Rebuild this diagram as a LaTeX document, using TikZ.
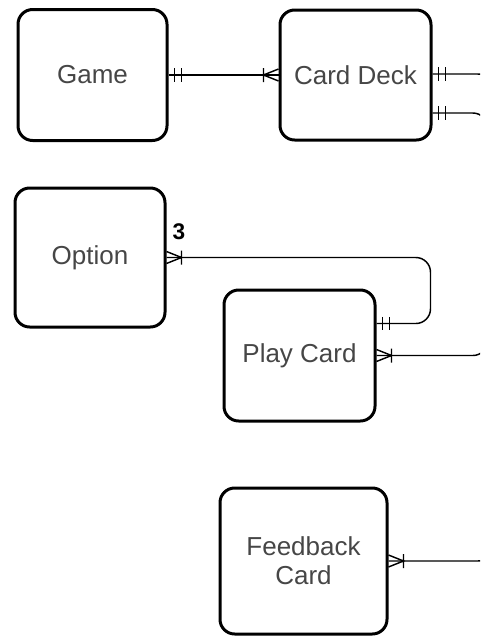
\documentclass[tikz,border=0pt]{standalone}
\usepackage{fontspec}
\setmainfont{Liberation Sans}
\usetikzlibrary{calc,decorations.markings}

\definecolor{txtgray}{RGB}{70,70,70}

\tikzset{every picture/.style={line width=0.75pt}}
\tikzset{
  entity/.style={draw, line width=2.25pt, rounded corners=11pt, inner sep=0pt, align=center,
    text=txtgray, font=\fontsize{19.5}{21.75}\selectfont},
  link/.style={line width=1.1pt, rounded corners=11pt},
  tick/.style={line width=1.1pt, sharp corners},
  one start/.style={postaction={decorate, decoration={markings,
    mark=at position 4.5pt with {\draw[tick] (0,-5pt) -- (0,5pt);},
    mark=at position 9.75pt with {\draw[tick] (0,-5pt) -- (0,5pt);}}}},
  one end/.style={postaction={decorate, decoration={markings,
    mark=at position -4.5pt with {\draw[tick] (0,-5pt) -- (0,5pt);},
    mark=at position -9.75pt with {\draw[tick] (0,-5pt) -- (0,5pt);}}}},
  many start/.style={postaction={decorate, decoration={markings,
    mark=at position 11.25pt with {\draw[tick] (0,-5.25pt) -- (0,5.25pt)
      (-11.25pt,-4.5pt) -- (0,0) -- (-11.25pt,4.5pt);}}}},
  many end/.style={postaction={decorate, decoration={markings,
    mark=at position -11.25pt with {\draw[tick] (0,-5.25pt) -- (0,5.25pt)
      (11.25pt,-4.5pt) -- (0,0) -- (11.25pt,4.5pt);}}}},
}

\begin{document}
\begin{tikzpicture}[x=0.75pt,y=0.75pt,yscale=-1,xscale=1]
\useasboundingbox (0,0) rectangle (480,637);
\clip (0,0) rectangle (480,637);

%Shape: Rounded Rect
\draw (92.5,75) node (game) [entity, minimum width=111.75pt, minimum height=98.25pt] {Game};
%Shape: Rounded Rect
\draw (355.5,75) node (deck) [entity, minimum width=113.25pt, minimum height=97.5pt] {Card Deck};
%Shape: Rounded Rect
\draw (90,257.5) node (option) [entity, minimum width=112.5pt, minimum height=104.25pt] {Option};
%Shape: Rounded Rect
\draw (299.5,355.5) node (play) [entity, minimum width=113.25pt, minimum height=98.25pt] {Play Card};
%Shape: Rounded Rect
\draw (303.5,561) node (feedback) [entity, minimum width=125.25pt, minimum height=109.5pt] {Feedback\\Card};

%Straight Lines
\draw [link, one start, many end] (game.east) -- (deck.west);
%Elbow Lines
\draw [link, one start, many end] ($(deck.east)+(0,-1)$) -- ++(60,0) |- (feedback.east);
\draw [link, one start, many end] ($(deck.east)+(0,38)$) -- ++(55,0) |- (play.east);
\draw [link, many start, one end] (option.east) -- ++(264,0) |- ($(play.east)+(0,-32)$);

% Text Node
\draw (179,232) node (mult) [font=\bfseries\fontsize{17}{20}\selectfont] {3};

\end{tikzpicture}
\end{document}
